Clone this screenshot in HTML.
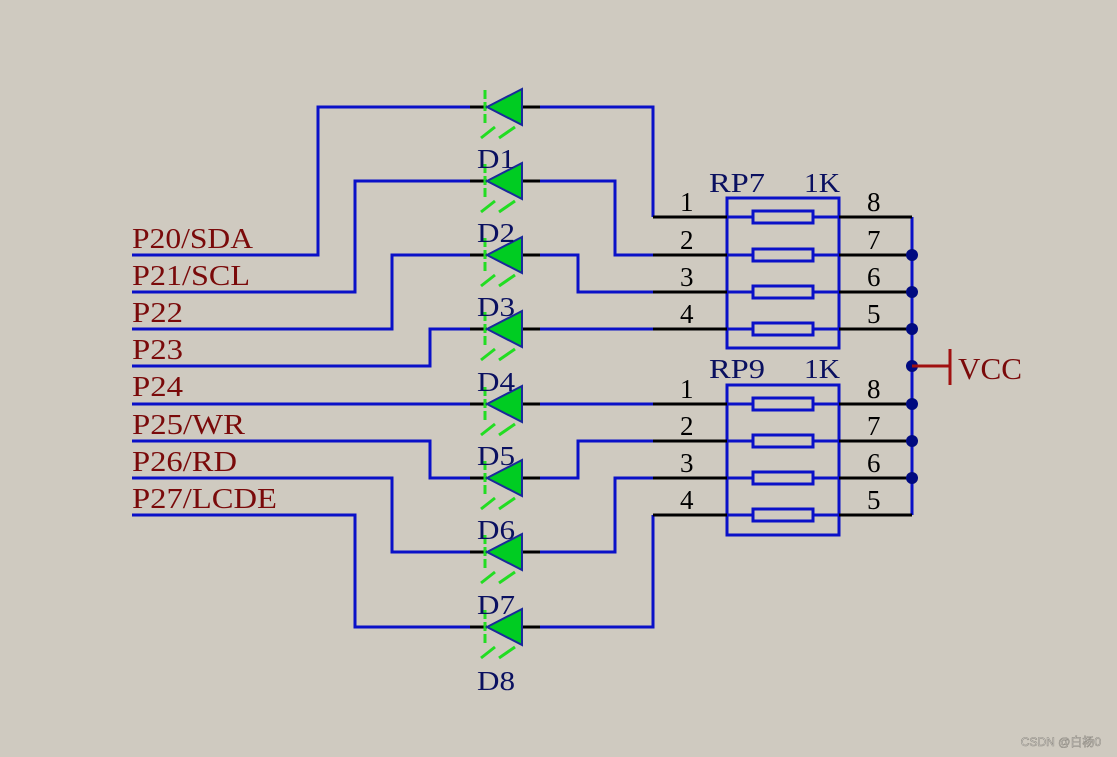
<!DOCTYPE html>
<html><head><meta charset="utf-8"><style>
html,body{margin:0;padding:0;background:#cfcac0;}
svg{display:block;}
</style></head><body>
<svg width="1117" height="757" viewBox="0 0 1117 757" xmlns="http://www.w3.org/2000/svg">
<rect width="1117" height="757" fill="#cfcac0"/>
<defs>
<g id="led">
  <line x1="470" y1="0" x2="487" y2="0" stroke="#000" stroke-width="3"/>
  <line x1="522" y1="0" x2="540" y2="0" stroke="#000" stroke-width="3"/>
  <line x1="485" y1="-17" x2="485" y2="16" stroke="#22dd22" stroke-width="3" stroke-dasharray="9,3"/>
  <polygon points="487,0 522,-18 522,18" fill="#00cc22" stroke="#1a2a9a" stroke-width="2"/>
  <line x1="481" y1="31" x2="495" y2="20" stroke="#22dd22" stroke-width="3"/>
  <line x1="499" y1="31" x2="515" y2="20" stroke="#22dd22" stroke-width="3"/>
</g>
</defs>
<g fill="none" stroke="#0a10c8" stroke-width="3">
  <polyline points="470,107 318,107 318,255 132,255"/>
  <polyline points="470,181 355,181 355,292 132,292"/>
  <polyline points="470,255 392,255 392,329 132,329"/>
  <polyline points="470,329 430,329 430,366 132,366"/>
  <polyline points="470,404 132,404"/>
  <polyline points="470,478 430,478 430,441 132,441"/>
  <polyline points="470,552 392,552 392,478 132,478"/>
  <polyline points="470,627 355,627 355,515 132,515"/>
  <polyline points="540,107 653,107 653,217"/>
  <polyline points="540,181 615,181 615,255 653,255"/>
  <polyline points="540,255 578,255 578,292 653,292"/>
  <polyline points="540,329 653,329"/>
  <polyline points="540,404 653,404"/>
  <polyline points="540,478 578,478 578,441 653,441"/>
  <polyline points="540,552 615,552 615,478 653,478"/>
  <polyline points="540,627 653,627 653,515"/>
  <polyline points="912,217 912,515"/>
  <rect x="727" y="198" width="112" height="150"/>
  <rect x="727" y="385" width="112" height="150"/>
  <rect x="753" y="211" width="60" height="12"/>
  <rect x="753" y="249" width="60" height="12"/>
  <rect x="753" y="286" width="60" height="12"/>
  <rect x="753" y="323" width="60" height="12"/>
  <rect x="753" y="398" width="60" height="12"/>
  <rect x="753" y="435" width="60" height="12"/>
  <rect x="753" y="472" width="60" height="12"/>
  <rect x="753" y="509" width="60" height="12"/>
</g>
<g stroke="#000" stroke-width="3">
  <line x1="653" y1="217" x2="727" y2="217"/><line x1="839" y1="217" x2="912" y2="217"/>
  <line x1="653" y1="255" x2="727" y2="255"/><line x1="839" y1="255" x2="912" y2="255"/>
  <line x1="653" y1="292" x2="727" y2="292"/><line x1="839" y1="292" x2="912" y2="292"/>
  <line x1="653" y1="329" x2="727" y2="329"/><line x1="839" y1="329" x2="912" y2="329"/>
  <line x1="653" y1="404" x2="727" y2="404"/><line x1="839" y1="404" x2="912" y2="404"/>
  <line x1="653" y1="441" x2="727" y2="441"/><line x1="839" y1="441" x2="912" y2="441"/>
  <line x1="653" y1="478" x2="727" y2="478"/><line x1="839" y1="478" x2="912" y2="478"/>
  <line x1="653" y1="515" x2="727" y2="515"/><line x1="839" y1="515" x2="912" y2="515"/>
</g>
<g stroke="#0a10c8" stroke-width="3">
  <line x1="727" y1="217" x2="753" y2="217"/><line x1="813" y1="217" x2="839" y2="217"/>
  <line x1="727" y1="255" x2="753" y2="255"/><line x1="813" y1="255" x2="839" y2="255"/>
  <line x1="727" y1="292" x2="753" y2="292"/><line x1="813" y1="292" x2="839" y2="292"/>
  <line x1="727" y1="329" x2="753" y2="329"/><line x1="813" y1="329" x2="839" y2="329"/>
  <line x1="727" y1="404" x2="753" y2="404"/><line x1="813" y1="404" x2="839" y2="404"/>
  <line x1="727" y1="441" x2="753" y2="441"/><line x1="813" y1="441" x2="839" y2="441"/>
  <line x1="727" y1="478" x2="753" y2="478"/><line x1="813" y1="478" x2="839" y2="478"/>
  <line x1="727" y1="515" x2="753" y2="515"/><line x1="813" y1="515" x2="839" y2="515"/>
</g>
<g fill="#000a80">
  <circle cx="912" cy="255" r="6"/><circle cx="912" cy="292" r="6"/><circle cx="912" cy="329" r="6"/>
  <circle cx="912" cy="366" r="6"/><circle cx="912" cy="404" r="6"/><circle cx="912" cy="441" r="6"/>
  <circle cx="912" cy="478" r="6"/>
</g>
<g stroke="#a01010" stroke-width="3">
  <line x1="912" y1="366" x2="950" y2="366"/>
  <line x1="950" y1="349" x2="950" y2="385"/>
</g>
<use href="#led" y="107"/><use href="#led" y="181"/><use href="#led" y="255"/><use href="#led" y="329"/>
<use href="#led" y="404"/><use href="#led" y="478"/><use href="#led" y="552"/><use href="#led" y="627"/>
<g font-family="Liberation Serif, serif" font-size="28" fill="#7a0a0a">
  <text x="132" y="248" textLength="121" lengthAdjust="spacingAndGlyphs">P20/SDA</text>
  <text x="132" y="285" textLength="118" lengthAdjust="spacingAndGlyphs">P21/SCL</text>
  <text x="132" y="322" textLength="51" lengthAdjust="spacingAndGlyphs">P22</text>
  <text x="132" y="359" textLength="51" lengthAdjust="spacingAndGlyphs">P23</text>
  <text x="132" y="396" textLength="51" lengthAdjust="spacingAndGlyphs">P24</text>
  <text x="132" y="434" textLength="113" lengthAdjust="spacingAndGlyphs">P25/WR</text>
  <text x="132" y="471" textLength="105" lengthAdjust="spacingAndGlyphs">P26/RD</text>
  <text x="132" y="508" textLength="145" lengthAdjust="spacingAndGlyphs">P27/LCDE</text>
  <text x="958" y="379" font-size="31" textLength="64" lengthAdjust="spacingAndGlyphs">VCC</text>
</g>
<g font-family="Liberation Serif, serif" font-size="27" fill="#0a1060">
  <text x="477" y="168" textLength="38" lengthAdjust="spacingAndGlyphs">D1</text>
  <text x="477" y="242" textLength="38" lengthAdjust="spacingAndGlyphs">D2</text>
  <text x="477" y="316" textLength="38" lengthAdjust="spacingAndGlyphs">D3</text>
  <text x="477" y="391" textLength="38" lengthAdjust="spacingAndGlyphs">D4</text>
  <text x="477" y="465" textLength="38" lengthAdjust="spacingAndGlyphs">D5</text>
  <text x="477" y="539" textLength="38" lengthAdjust="spacingAndGlyphs">D6</text>
  <text x="477" y="614" textLength="38" lengthAdjust="spacingAndGlyphs">D7</text>
  <text x="477" y="690" textLength="38" lengthAdjust="spacingAndGlyphs">D8</text>
  <text x="709" y="192" textLength="56" lengthAdjust="spacingAndGlyphs">RP7</text>
  <text x="804" y="192" textLength="36" lengthAdjust="spacingAndGlyphs">1K</text>
  <text x="709" y="378" textLength="56" lengthAdjust="spacingAndGlyphs">RP9</text>
  <text x="804" y="378" textLength="36" lengthAdjust="spacingAndGlyphs">1K</text>
</g>
<g font-family="Liberation Serif, serif" font-size="27" fill="#000">
  <text x="680" y="211">1</text><text x="867" y="211">8</text>
  <text x="680" y="249">2</text><text x="867" y="249">7</text>
  <text x="680" y="286">3</text><text x="867" y="286">6</text>
  <text x="680" y="323">4</text><text x="867" y="323">5</text>
  <text x="680" y="398">1</text><text x="867" y="398">8</text>
  <text x="680" y="435">2</text><text x="867" y="435">7</text>
  <text x="680" y="472">3</text><text x="867" y="472">6</text>
  <text x="680" y="509">4</text><text x="867" y="509">5</text>
</g>
<text x="1101" y="746" text-anchor="end" font-family="Liberation Sans, 'Noto Sans CJK SC', sans-serif" font-size="12" fill="#eeebe6" stroke="#8e8a82" stroke-width="0.6">CSDN @白杨0</text>
</svg>
</body></html>
